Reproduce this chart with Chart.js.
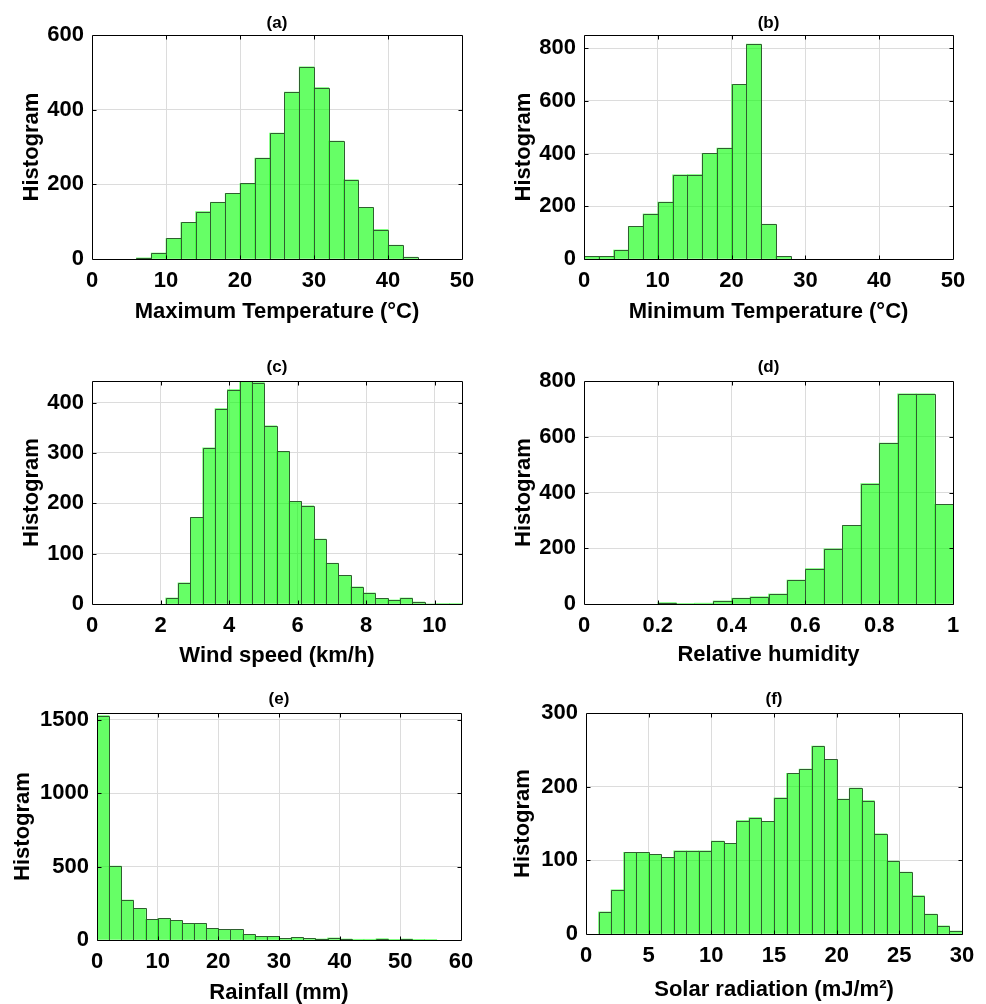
<!DOCTYPE html>
<html>
<head>
<meta charset="utf-8">
<script src="https://cdn.jsdelivr.net/npm/chart.js@4.4.1/dist/chart.umd.min.js"></script>
<style>
  html, body { margin: 0; padding: 0; background: #fff; }
  #wrap { position: relative; width: 986px; height: 1004px; }
  .pane { position: absolute; }
</style>
</head>
<body>
<div id="wrap"></div>
<script>
// (a) maximum temperature, bins of 2 starting at 6
const maxTempStart = 6, maxTempWidth = 2;
const maxTempCounts = [3, 16, 55, 98, 127, 152, 176, 203, 270, 337, 447, 515, 459, 316, 212, 138, 79, 37, 5];

// (b) minimum temperature, bins of 2 starting at 0
const minTempStart = 0, minTempWidth = 2;
const minTempCounts = [10, 10, 34, 124, 171, 216, 319, 320, 401, 421, 663, 816, 132, 10];

// (c) wind speed, bins of 0.36 starting at 2.15
const windStart = 2.15, windWidth = 0.36;
const windCounts = [12, 42, 172, 310, 388, 426, 446, 440, 354, 303, 204, 195, 129, 81, 57, 34, 22, 11, 8, 12, 4, 0, 1, 1];

// (d) relative humidity, bins of 0.05 starting at 0.2
const humStart = 0.2, humWidth = 0.05;
const humCounts = [5, 2, 3, 11, 21, 26, 36, 86, 127, 198, 282, 432, 577, 754, 754, 357];

// (e) rainfall, bins of 2 starting at 0
const rainStart = 0, rainWidth = 2;
const rainCounts = [1527, 503, 272, 215, 140, 147, 134, 113, 113, 79, 72, 72, 38, 25, 25, 11, 18, 11, 7, 14, 7, 5, 5, 9, 1, 7, 1, 3];

// (f) solar radiation, bins of 1 starting at 1
const solarStart = 1, solarWidth = 1;
const solarCounts = [30, 60, 111, 111, 108, 104, 113, 113, 113, 126, 123, 154, 158, 153, 185, 218, 224, 255, 237, 183, 198, 181, 136, 99, 84, 52, 27, 11, 4];

const FONT = "'Liberation Sans', Arial, Helvetica, sans-serif";
const GRID = '#dcdcdc';
const EDGE = '#2f5f2f';
const FILL = 'rgba(0, 255, 0, 0.6)';

Chart.defaults.font.family = FONT;

const panels = [
  { title: '(a)', xLabel: 'Maximum Temperature (°C)', start: maxTempStart, width: maxTempWidth, counts: maxTempCounts,
    xMax: 50, xStep: 10, yMax: 600, yStep: 200,
    box: [0, 0, 493, 335], area: [92, 35, 462, 259], titleY: 23, xTitleY: 312, yTitleX: 32 },
  { title: '(b)', xLabel: 'Minimum Temperature (°C)', start: minTempStart, width: minTempWidth, counts: minTempCounts,
    xMax: 50, xStep: 10, yMax: 850, yStep: 200,
    box: [493, 0, 493, 335], area: [584, 35, 953, 259], titleY: 23, xTitleY: 312, yTitleX: 524 },
  { title: '(c)', xLabel: 'Wind speed (km/h)', start: windStart, width: windWidth, counts: windCounts,
    xMax: 10.8, xStep: 2, yMax: 443, yStep: 100,
    box: [0, 335, 493, 335], area: [92, 381, 462, 604], titleY: 367.5, xTitleY: 656, yTitleX: 32 },
  { title: '(d)', xLabel: 'Relative humidity', start: humStart, width: humWidth, counts: humCounts,
    xMax: 1, xStep: 0.2, yMax: 800, yStep: 200,
    box: [493, 335, 493, 335], area: [584, 381, 953, 604], titleY: 367.5, xTitleY: 655, yTitleX: 524 },
  { title: '(e)', xLabel: 'Rainfall (mm)', start: rainStart, width: rainWidth, counts: rainCounts,
    xMax: 60, xStep: 10, yMax: 1545, yStep: 500,
    box: [0, 670, 493, 334], area: [97, 713, 461, 940], titleY: 699.5, xTitleY: 993, yTitleX: 22.5 },
  { title: '(f)', xLabel: 'Solar radiation (mJ/m²)', start: solarStart, width: solarWidth, counts: solarCounts,
    xMax: 30, xStep: 5, yMax: 300, yStep: 100,
    box: [493, 670, 493, 334], area: [586, 713, 962, 934], titleY: 699.5, xTitleY: 990, yTitleX: 523 }
];

// round multiples of step from 0 up to max
function stepTicks(max, step) {
  const out = [];
  for (let k = 0; k * step <= max + 1e-9; k++) {
    out.push({ value: Math.round(k * step * 1000) / 1000 });
  }
  return out;
}

function fmt(v) {
  return String(Math.round(v * 1000) / 1000);
}

// bar outlines, black box and inward tick marks (matlab look)
const framePlugin = {
  id: 'frame',
  afterDatasetsDraw(chart) {
    const { ctx, chartArea: a, scales } = chart;
    const meta = chart.getDatasetMeta(0);
    ctx.save();

    ctx.strokeStyle = EDGE;
    ctx.lineWidth = 1;
    ctx.beginPath();
    meta.data.forEach(bar => {
      const { x, y, base, width } = bar.getProps(['x', 'y', 'base', 'width'], true);
      if (base - y < 0.5) return;
      const x0 = Math.round(x - width / 2) + 0.5;
      const x1 = Math.round(x + width / 2) + 0.5;
      const y0 = Math.round(Math.max(y, a.top)) + 0.5;
      const y1 = Math.round(base) + 0.5;
      ctx.rect(x0, y0, x1 - x0, y1 - y0);
    });
    ctx.stroke();

    const L = Math.round(a.left) + 0.5, R = Math.round(a.right) + 0.5;
    const T = Math.round(a.top) + 0.5, B = Math.round(a.bottom) + 0.5;
    ctx.strokeStyle = '#000';
    ctx.beginPath();
    ctx.rect(L, T, R - L, B - T);
    scales.x.ticks.forEach(tk => {
      const px = Math.round(scales.x.getPixelForValue(tk.value)) + 0.5;
      if (px <= L + 1 || px >= R - 1) return;
      ctx.moveTo(px, B); ctx.lineTo(px, B - 4);
      ctx.moveTo(px, T); ctx.lineTo(px, T + 4);
    });
    scales.y.ticks.forEach(tk => {
      const py = Math.round(scales.y.getPixelForValue(tk.value)) + 0.5;
      if (py <= T + 1 || py >= B - 1) return;
      ctx.moveTo(L, py); ctx.lineTo(L + 4, py);
      ctx.moveTo(R, py); ctx.lineTo(R - 4, py);
    });
    ctx.stroke();
    ctx.restore();
  }
};

const wrap = document.getElementById('wrap');

panels.forEach(p => {
  const [cx, cy, cw, ch] = p.box;
  const [l, t, r, b] = p.area;

  const canvas = document.createElement('canvas');
  canvas.className = 'pane';
  canvas.width = cw;
  canvas.height = ch;
  canvas.style.left = cx + 'px';
  canvas.style.top = cy + 'px';
  canvas.style.width = cw + 'px';
  canvas.style.height = ch + 'px';
  wrap.appendChild(canvas);

  const titleLine = 20;
  const titleTop = p.titleY - cy - titleLine / 2;
  const titleBottom = (t - cy) - titleTop - titleLine;

  new Chart(canvas, {
    type: 'bar',
    data: {
      datasets: [{
        data: p.counts.map((c, i) => ({ x: p.start + p.width * (i + 0.5), y: c })),
        backgroundColor: FILL,
        borderWidth: 0,
        barPercentage: 1,
        categoryPercentage: 1
      }]
    },
    options: {
      responsive: false,
      animation: false,
      devicePixelRatio: 1,
      layout: { padding: { left: 0, top: 0, right: cw - (r - cx), bottom: 0 } },
      plugins: {
        legend: { display: false },
        tooltip: { enabled: false },
        title: {
          display: true,
          fullSize: false,
          text: p.title,
          color: '#000',
          font: { size: 17, weight: 'bold', lineHeight: titleLine / 17 },
          padding: { top: titleTop, bottom: titleBottom }
        }
      },
      scales: {
        x: {
          type: 'linear',
          min: 0,
          max: p.xMax,
          offset: false,
          grid: { color: GRID, drawTicks: false, offset: false },
          border: { display: false },
          ticks: {
            autoSkip: false,
            maxRotation: 0,
            color: '#000',
            padding: 9,
            font: { size: 22, weight: 'bold' },
            callback: v => fmt(v)
          },
          afterBuildTicks: s => { s.ticks = stepTicks(p.xMax, p.xStep); },
          afterFit: s => { s.height = cy + ch - b; s.paddingLeft = 0; s.paddingRight = 0; },
          title: {
            display: true,
            text: p.xLabel,
            color: '#000',
            font: { size: 22, weight: 'bold', lineHeight: 1 },
            padding: { top: 0, bottom: cy + ch - p.xTitleY - 11 }
          }
        },
        y: {
          min: 0,
          max: p.yMax,
          grid: { color: GRID, drawTicks: false },
          border: { display: false },
          ticks: {
            autoSkip: false,
            color: '#000',
            padding: 8,
            font: { size: 22, weight: 'bold' },
            callback: v => fmt(v)
          },
          afterBuildTicks: s => { s.ticks = stepTicks(p.yMax, p.yStep); },
          afterFit: s => { s.width = l - cx; s.paddingTop = 0; s.paddingBottom = 0; },
          title: {
            display: true,
            text: 'Histogram',
            color: '#000',
            font: { size: 22, weight: 'bold', lineHeight: 1 },
            padding: { top: p.yTitleX - cx - 11, bottom: 0 }
          }
        }
      }
    },
    plugins: [framePlugin]
  });
});
</script>
</body>
</html>
